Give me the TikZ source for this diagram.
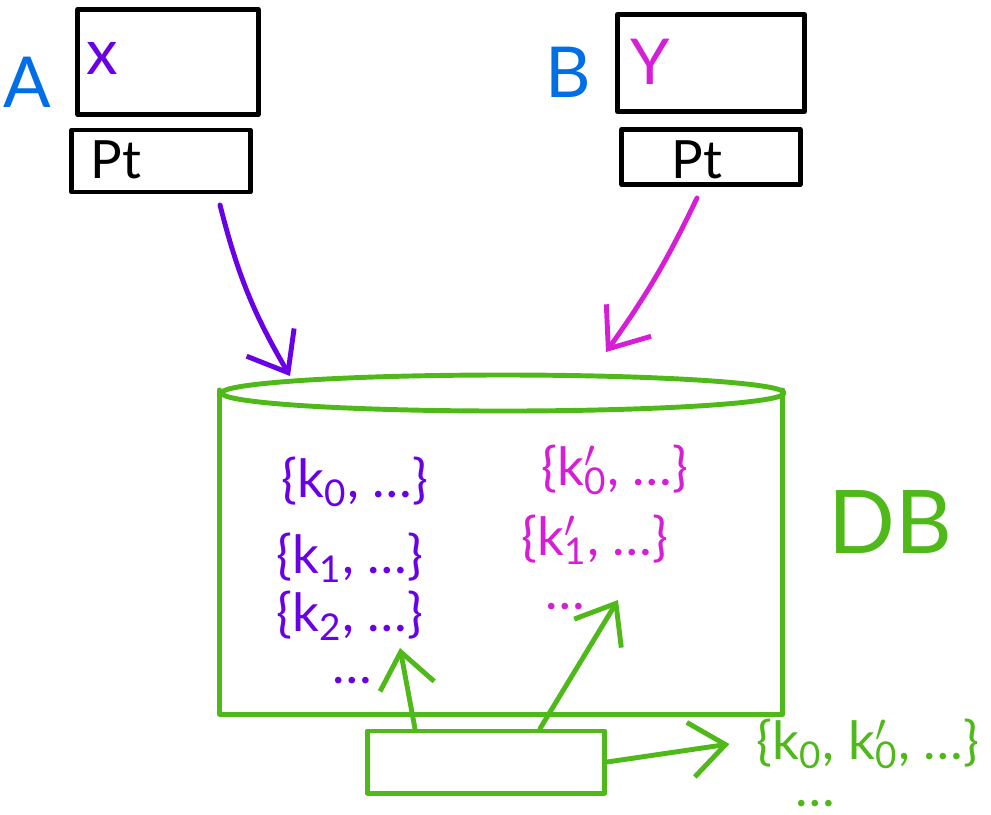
\documentclass[tikz,border=0pt]{standalone}
\usepackage{fontspec}
\setmainfont{Lato}
\usetikzlibrary{arrows.meta,positioning,shapes.geometric}
\definecolor{xanh}{RGB}{0,110,230}
\definecolor{tim}{RGB}{105,0,230}
\definecolor{hong}{RGB}{215,30,215}
\definecolor{la}{RGB}{78,185,25}
% k with a prime and an index
\newcommand\kp[1]{k\rlap{$'$}\textsubscript{#1}}
\begin{document}
\begin{tikzpicture}[x=0.01cm,y=-0.01cm,line width=1.4pt,line cap=round,line join=round,
    >={Straight Barb[length=3.5mm,width=5.5mm]},
    hop/.style={draw,rectangle,inner sep=0pt},
    ten/.style={font=\fontsize{20}{24}\selectfont,inner sep=0.5pt},
    bien/.style={font=\fontsize{18}{22}\selectfont,inner sep=0.5pt},
    pt/.style={font=\fontsize{15}{18}\selectfont,inner sep=0.5pt},
    muc/.style={font=\fontsize{15}{18}\selectfont,inner sep=0pt},
    cham/.style={font=\fontsize{15}{18}\selectfont,inner sep=0pt,text height=0.2em,text depth=0pt}]
    \useasboundingbox (0,0) rectangle (991,814);
    %Khung A
    \node[hop,minimum width=1.8cm,minimum height=1.05cm] (boxX) at (168,62) {};
    \node[hop,minimum width=1.78cm,minimum height=0.62cm] (ptA) at (161,161) {};
    \node[ten,xanh] (A) at (27,82) {A};
    \node[bien,tim] (lblX) at (102,58) {x};
    \node[pt] (ptAtxt) at (116,160) {Pt};
    %Khung B
    \node[hop,minimum width=1.87cm,minimum height=0.97cm] (boxY) at (711,63) {};
    \node[hop,minimum width=1.78cm,minimum height=0.55cm] (ptB) at (711,157) {};
    \node[ten,xanh] (B) at (568,72) {B};
    \node[bien,hong] (lblY) at (650,62) {Y};
    \node[pt] (ptBtxt) at (697,160) {Pt};
    %DB
    \node[minimum width=5.58cm,minimum height=3.19cm] (dbBody) at (501,552) {};
    \draw[la] (dbBody.north west) -- (dbBody.south west) -- (dbBody.south east) -- (dbBody.north east);
    \node[draw=la,ellipse,inner sep=0pt,minimum width=5.62cm,minimum height=0.36cm] (dbTop) at (503,393) {};
    \node[la,font=\fontsize{25}{30}\selectfont] (db) at (890,522) {DB};
    %Muc trong DB
    \node[muc,tim] (k0) at (355,482) {\{k\textsubscript{0}, \dots\}};
    \node[muc,tim] (k1) at (350,558) {\{k\textsubscript{1}, \dots\}};
    \node[muc,tim] (k2) at (350,616) {\{k\textsubscript{2}, \dots\}};
    \node[cham,tim] (dotsA) at (352,680) {\dots};
    \node[muc,hong] (kp0) at (615,470) {\{\kp{0}, \dots\}};
    \node[muc,hong] (kp1) at (595,540) {\{\kp{1}, \dots\}};
    \node[cham,hong] (dotsB) at (565,606) {\dots};
    %Khung duoi
    \node[hop,draw=la,minimum width=2.37cm,minimum height=0.62cm] (boxC) at (486,762) {};
    \node[muc,la] (kq) at (868,744) {\{k\textsubscript{0}, \kp{0}, \dots\}};
    \node[cham,la] (kq2) at (815,803) {\dots};
    %Mui ten
    \coordinate (a1) at (220,205);
    \coordinate (a2) at (290,376);
    \coordinate (b1) at (697,198);
    \coordinate (b2) at (606,352);
    \coordinate (c1) at (400,648);
    \coordinate (c2) at (618,600);
    \draw[tim,->] (a1) to[bend right=8] (a2);
    \draw[hong,->] (b1) to[bend left=5] (b2);
    \draw[la,->] ([xshift=-0.71cm]boxC.north) -- (c1);
    \draw[la,->] ([xshift=0.54cm]boxC.north) -- (c2);
    \draw[la,->] (boxC.east) -- ([xshift=-0.25cm]kq.west);
\end{tikzpicture}
\end{document}
